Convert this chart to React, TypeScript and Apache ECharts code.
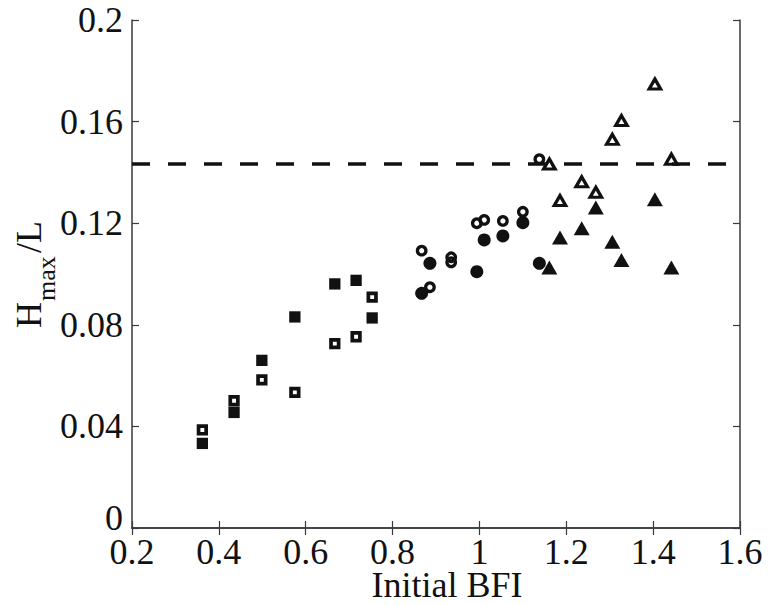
import React, { useEffect, useRef } from 'react';
import * as echarts from 'echarts';

// ---- data ----
const squareX = [0.362, 0.435, 0.499, 0.575, 0.667, 0.716, 0.753];
const squareFilledY = [0.0333, 0.0455, 0.066, 0.0831, 0.0961, 0.0975, 0.0827];
const squareOpenY = [0.0386, 0.0501, 0.0583, 0.0534, 0.0726, 0.0753, 0.0909];

const circleFilledX = [0.867, 0.886, 0.994, 1.011, 1.054, 1.1, 1.138];
const circleFilledY = [0.0924, 0.1042, 0.1009, 0.1134, 0.115, 0.1202, 0.1042];
const circleOpenX = [0.867, 0.886, 0.935, 0.935, 0.994, 1.011, 1.054, 1.1, 1.138];
const circleOpenY = [0.1092, 0.0948, 0.1066, 0.1046, 0.12, 0.1213, 0.1209, 0.1245, 0.1452];

const triangleX = [1.161, 1.1855, 1.2355, 1.268, 1.306, 1.327, 1.404, 1.442];
const triangleFilledY = [0.1026, 0.1144, 0.118, 0.1262, 0.1127, 0.1055, 0.1294, 0.1026];
const triangleOpenY = [0.1433, 0.1289, 0.1363, 0.1322, 0.153, 0.1604, 0.1748, 0.1452];

const thresholdY = 0.1433;

const xMin = 0.2;
const xMax = 1.6;
const xStep = 0.2;
const yMin = 0;
const yMax = 0.2;
const yStep = 0.04;

const xTitle = 'Initial BFI';

const pairs = (xs: number[], ys: number[]) => xs.map((x, i) => [x, ys[i]]);

export default function App() {
  const ref = useRef<HTMLDivElement>(null);

  useEffect(() => {
    if (!ref.current) return;
    const chart = echarts.init(ref.current, null, { renderer: 'svg' });
    const font = 'Liberation Serif';
    const ink = '#111111';
    const axisColor = '#3a3a3a';

    const labelStyle = { fontFamily: font, fontSize: 36, color: ink, lineHeight: 30 };

    const xBase = {
      type: 'value' as const,
      min: xMin,
      max: xMax,
      interval: xStep,
      splitLine: { show: false },
      axisLine: { show: true, lineStyle: { color: axisColor, width: 1.5 } },
      axisTick: { show: true, inside: true, length: 7, lineStyle: { color: axisColor, width: 1.2 } },
    };
    const yBase = {
      type: 'value' as const,
      min: yMin,
      max: yMax,
      interval: yStep,
      splitLine: { show: false },
      axisLine: { show: true, lineStyle: { color: axisColor, width: 1.5 } },
      axisTick: { show: true, inside: true, length: 7, lineStyle: { color: axisColor, width: 1.2 } },
    };

    const hollow = (size: number | number[], bw: number) => ({
      symbolSize: size,
      itemStyle: { color: 'rgba(0,0,0,0)', borderColor: ink, borderWidth: bw, opacity: 1 },
    });
    const solid = (size: number | number[]) => ({
      symbolSize: size,
      itemStyle: { color: ink, borderWidth: 0, opacity: 1 },
    });

    chart.setOption({
      animation: false,
      backgroundColor: '#ffffff',
      grid: { left: 132, right: 28, top: 20, bottom: 77, containLabel: false, outerBoundsMode: 'none' },
      xAxis: [
        { ...xBase, position: 'bottom', axisLabel: { ...labelStyle, margin: 9 } },
        { ...xBase, position: 'top', axisLabel: { show: false } },
      ],
      yAxis: [
        {
          ...yBase,
          position: 'left',
          axisLabel: {
            ...labelStyle,
            margin: 9,
            formatter: (v: number) => (v === 0 ? '{z|0}' : String(v)),
            rich: {
              z: { fontFamily: font, fontSize: 36, color: ink, lineHeight: 30, padding: [0, 0, 20, 0] },
            },
          },
        },
        { ...yBase, position: 'right', axisLabel: { show: false } },
      ],
      graphic: [
        {
          type: 'text',
          x: 447,
          y: 585,
          style: {
            text: xTitle,
            font: `36px "${font}"`,
            lineHeight: 24,
            fill: ink,
            textAlign: 'center',
            textVerticalAlign: 'middle',
          },
        },
        {
          type: 'group',
          x: 40,
          y: 328,
          rotation: Math.PI / 2,
          children: [
            {
              type: 'text',
              x: 0,
              y: -11.5,
              style: { text: 'H', font: `36px "${font}"`, fill: ink, textAlign: 'left', textVerticalAlign: 'middle' },
            },
            {
              type: 'text',
              x: 27,
              y: 6,
              style: { text: 'max', font: `26px "${font}"`, fill: ink, textAlign: 'left', textVerticalAlign: 'middle' },
            },
            {
              type: 'text',
              x: 75,
              y: -11.5,
              style: { text: '/L', font: `36px "${font}"`, fill: ink, textAlign: 'left', textVerticalAlign: 'middle' },
            },
          ],
        },
      ],
      series: [
        {
          type: 'scatter',
          symbol: 'rect',
          ...solid(11.3),
          data: pairs(squareX, squareFilledY),
          markLine: {
            silent: true,
            precision: 5,
            symbol: ['none', 'none'],
            label: { show: false },
            lineStyle: { color: ink, width: 3.5, type: [18, 18], opacity: 1 },
            data: [{ yAxis: thresholdY }],
          },
        },
        {
          type: 'scatter',
          symbol: 'rect',
          ...hollow(7.6, 3.7),
          data: pairs(squareX, squareOpenY),
        },
        {
          type: 'scatter',
          symbol: 'circle',
          ...solid(13),
          data: pairs(circleFilledX, circleFilledY),
        },
        {
          type: 'scatter',
          symbol: 'circle',
          ...hollow(8.5, 3.3),
          data: pairs(circleOpenX, circleOpenY),
        },
        {
          type: 'scatter',
          symbol: 'triangle',
          ...solid([16, 14]),
          data: pairs(triangleX, triangleFilledY),
        },
        {
          type: 'scatter',
          symbol: 'triangle',
          ...hollow([11.5, 10], 3.2),
          data: pairs(triangleX, triangleOpenY),
        },
      ],
    });

    return () => chart.dispose();
  }, []);

  return (
    <div
      ref={ref}
      style={{ position: 'fixed', left: 0, top: 0, width: 768, height: 605, background: '#fff' }}
    />
  );
}
